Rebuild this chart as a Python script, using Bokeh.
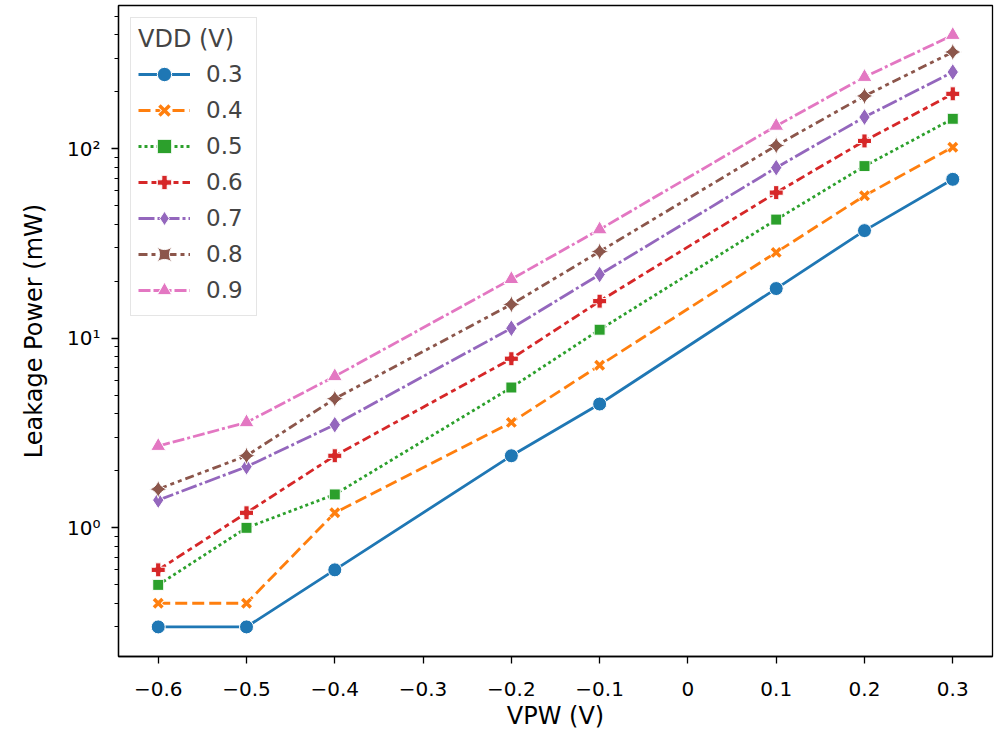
import math
from bokeh.plotting import figure
from bokeh.models import Range1d, FixedTicker, LogTicker, Legend, LegendItem
from bokeh.embed import file_html
from bokeh.resources import INLINE

# ---- data ----
vpw = [-0.6, -0.5, -0.4, -0.2, -0.1, 0.1, 0.2, 0.3]
vdd_labels = ["0.3", "0.4", "0.5", "0.6", "0.7", "0.8", "0.9"]
p03 = [0.3, 0.3, 0.6, 2.4, 4.5, 18.3, 37.0, 69.0]
p04 = [0.4, 0.4, 1.2, 3.6, 7.2, 28.4, 56.5, 102.0]
p05 = [0.5, 1.0, 1.5, 5.5, 11.1, 42.3, 81.0, 144.0]
p06 = [0.6, 1.2, 2.4, 7.8, 15.7, 58.7, 110.0, 195.0]
p07 = [1.4, 2.1, 3.5, 11.3, 21.7, 79.5, 147.0, 254.0]
p08 = [1.6, 2.4, 4.8, 15.1, 28.7, 104.0, 190.0, 324.0]
p09 = [2.7, 3.6, 6.3, 20.5, 37.5, 132.0, 239.0, 398.0]
x_ticks = [-0.6, -0.5, -0.4, -0.3, -0.2, -0.1, 0.0, 0.1, 0.2, 0.3]
x_tick_labels = ["\u22120.6", "\u22120.5", "\u22120.4", "\u22120.3", "\u22120.2", "\u22120.1",
                 "0", "0.1", "0.2", "0.3"]
y_tick_labels = {0.1: "10\u207b\u00b9", 1: "10\u2070", 10: "10\u00b9", 100: "10\u00b2", 1000: "10\u00b3"}

series = [p03, p04, p05, p06, p07, p08, p09]

# ---- styles ----
colors = ["#1f77b4", "#ff7f0e", "#2ca02c", "#d62728", "#9467bd", "#8c564b", "#e377c2"]
dashes = ["solid", "12 5", "3 3", "9 4 5 4", "16 3 3 3", "9 4 4 4 4 4", "12 3 12 3 3 3"]
markers = ["circle", "x", "square", "plus", "diamond", "square_pin", "triangle"]
angles = [0, 0, 0, 0, 0, math.pi / 4, 0]
sizes = [14, 12, 11, 14, 17, 13, 15]
FONT = "DejaVu Sans"

allv = [v for s in series for v in s]
lo, hi = math.log10(min(allv)), math.log10(max(allv))
pad = 0.05 * (hi - lo)
xpad = 0.05 * (max(vpw) - min(vpw))

p = figure(width=994, height=732, y_axis_type="log",
           x_range=Range1d(min(vpw) - xpad, max(vpw) + xpad),
           y_range=Range1d(10 ** (lo - pad), 10 ** (hi + pad)),
           output_backend="svg", toolbar_location=None,
           min_border_left=118, min_border_right=2, min_border_top=5, min_border_bottom=74)

p.xgrid.visible = False
p.ygrid.visible = False
p.outline_line_color = "black"
p.outline_line_width = 1.3
p.background_fill_color = "white"
p.border_fill_color = "white"

items = []
for i, s in enumerate(series):
    rs = [p.line(vpw, s, line_color=colors[i], line_width=2.8, line_dash=dashes[i])]
    if markers[i] == "x":
        rs.append(p.scatter(vpw, s, marker="x", size=sizes[i] + 1, line_color="white", line_width=5.5))
        rs.append(p.scatter(vpw, s, marker="x", size=sizes[i], line_color=colors[i], line_width=3.5))
    else:
        rs.append(p.scatter(vpw, s, marker=markers[i], size=sizes[i], angle=angles[i],
                            fill_color=colors[i], line_color="white", line_width=1))
    items.append(LegendItem(label=vdd_labels[i], renderers=rs))

legend = Legend(items=items, location="top_left", title="VDD (V)")
legend.title_text_font = FONT
legend.title_text_font_size = "24px"
legend.title_text_font_style = "normal"
legend.title_standoff = 3
legend.label_text_font = FONT
legend.label_text_font_size = "23px"
legend.glyph_width = 52
legend.glyph_height = 36
legend.label_height = 36
legend.label_width = 43
legend.label_standoff = 16
legend.spacing = 0
legend.padding = 7
legend.margin = 12
legend.border_line_color = "#cccccc"
legend.border_line_width = 1.3
legend.background_fill_alpha = 0.9
p.add_layout(legend)

for ax in (p.xaxis[0], p.yaxis[0]):
    ax.axis_line_color = "black"
    ax.axis_line_width = 1.3
    ax.major_tick_line_color = "black"
    ax.minor_tick_line_color = "black"
    ax.major_tick_line_width = 1.3
    ax.minor_tick_line_width = 1.0
    ax.major_tick_in = 0
    ax.major_tick_out = 7
    ax.minor_tick_in = 0
    ax.minor_tick_out = 4
    ax.major_label_text_font = FONT
    ax.major_label_text_font_size = "20px"
    ax.major_label_text_color = "black"
    ax.axis_label_text_font = FONT
    ax.axis_label_text_font_size = "24px"
    ax.axis_label_text_font_style = "normal"
    ax.axis_label_text_color = "black"

p.xaxis.ticker = FixedTicker(ticks=x_ticks, minor_ticks=[])
p.xaxis.major_label_overrides = dict(zip(x_ticks, x_tick_labels))
p.xaxis.axis_label = "VPW (V)"
p.xaxis.major_label_standoff = 18
p.xaxis.axis_label_standoff = 3

p.yaxis.ticker = LogTicker(num_minor_ticks=10)
p.yaxis.major_label_overrides = y_tick_labels
p.yaxis.axis_label = "Leakage Power (mW)"
p.yaxis.major_label_standoff = 11
p.yaxis.axis_label_standoff = 16

open("out.html", "w").write(file_html(p, INLINE))
